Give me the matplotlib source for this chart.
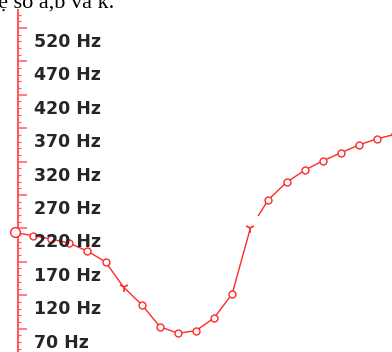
import numpy as np
import matplotlib
matplotlib.use("Agg")
import matplotlib.pyplot as plt
from matplotlib.ticker import MultipleLocator
from matplotlib.transforms import offset_copy

# Pitch contour sampled at equal time steps (Hz)
freq_hz = [214, 209, 204, 198, 186, 170, 132, 106, 73, 63, 67, 86, 122,
           220, 263, 289, 307, 321, 333, 345, 354, 361]
# Samples where the contour is broken (drawn with a tick mark instead of a circle)
break_idx = [6, 13]
tick_values = [70, 120, 170, 220, 270, 320, 370, 420, 470, 520]
tick_labels = [f"{v} Hz" for v in tick_values]
caption = "hệ số a,b và k."

RED = "#ff2a2a"
AXIS_RED = "#ff5a5a"

W, H, DPI = 392, 352, 100
STEP = 18.1  # pixels per sample
fig = plt.figure(figsize=(W / DPI, H / DPI), dpi=DPI)
fig.patch.set_facecolor("white")

ax = fig.add_axes([18 / W, 0, (W - 18) / W, (H - 10) / H])
ax.set_facecolor("none")

x = np.arange(len(freq_hz))
y = np.array(freq_hz, dtype=float)

# contour up to the second break, then a short gap before it resumes
b = break_idx[1]
gap = 0.45
ax.plot(x[:b + 1], y[:b + 1], color=RED, lw=1.0, zorder=3, clip_on=False)
xs = x[b] + gap * (x[b + 1] - x[b])
ys = y[b] + gap * (y[b + 1] - y[b])
ax.plot(np.r_[xs, x[b + 1:]], np.r_[ys, y[b + 1:]], color=RED, lw=1.0,
        zorder=3, clip_on=False)

circ = [i for i in range(1, len(x)) if i not in break_idx]
ax.plot(x[circ], y[circ], ls="none", marker="o", ms=5, mfc="white",
        mec=RED, mew=1.0, zorder=4, clip_on=False)
ax.plot(x[0], y[0], ls="none", marker="o", ms=7, mfc="white",
        mec=RED, mew=1.0, zorder=4, clip_on=False)
ax.plot(x[break_idx], y[break_idx], ls="none", marker="1", ms=7,
        mec=RED, mew=1.2, zorder=4, clip_on=False)

ax.set_xlim(3 / STEP, (W - 15) / STEP)
ax.set_ylim(35.0, 546.9)

for s in ("top", "right", "bottom"):
    ax.spines[s].set_visible(False)
ax.spines["left"].set_color(AXIS_RED)
ax.spines["left"].set_linewidth(1.5)
ax.set_xticks([])
ax.set_yticks(tick_values)
ax.yaxis.set_minor_locator(MultipleLocator(10))
ax.tick_params(axis="y", which="major", direction="in", length=6.5,
               width=1.1, color=AXIS_RED, labelleft=False)
ax.tick_params(axis="y", which="minor", direction="in", length=2.0,
               width=0.8, color=AXIS_RED)

tr = offset_copy(ax.get_yaxis_transform(), fig=fig, x=16, y=-19, units="dots")
for v, lab in zip(tick_values, tick_labels):
    ax.text(0, v, lab, transform=tr, ha="left", va="baseline",
            fontsize=12.5, fontweight="bold", family="DejaVu Sans",
            color="#262626", zorder=5, clip_on=False)

fig.text(-13.5 / W, 1 - 8 / H, caption, ha="left", va="baseline",
         fontsize=16, family="Liberation Serif", color="black")

fig.savefig("out.png", dpi=DPI, facecolor="white")
